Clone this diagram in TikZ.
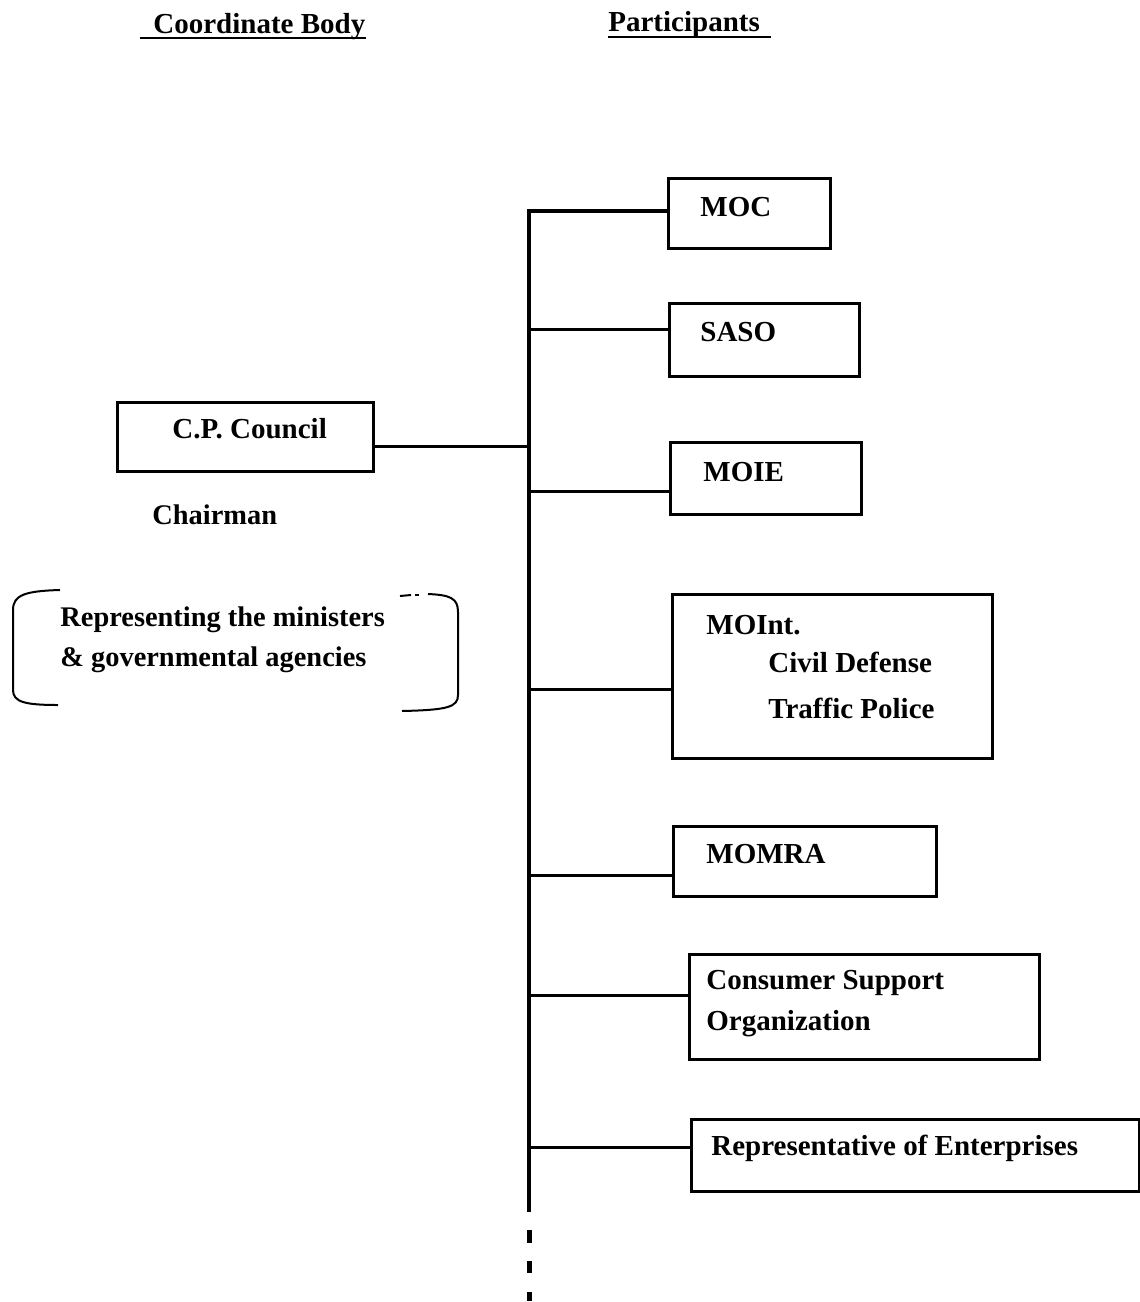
\documentclass[tikz,border=0pt]{standalone}
\usepackage{fontspec}
\setmainfont{Liberation Serif}
\begin{document}
\begin{tikzpicture}[x=0.5pt,y=-0.5pt,
  box/.style={draw, line width=1.5pt, anchor=north west, inner sep=0pt},
  txt/.style={anchor=base west, inner sep=0pt, font=\bfseries\fontsize{14.5}{17}\selectfont},
  stxt/.style={txt, font=\bfseries\fontsize{14.2}{17}\selectfont},
  conn/.style={line width=1.5pt},
  trunk/.style={line width=2pt},
  brk/.style={line width=1pt},
  uline/.style={line width=0.9pt}]
\useasboundingbox (0,0) rectangle (1140,1302);
% headers
\node[txt] (hcb) at (153,33) {Coordinate Body};
\node[txt] (hpa) at (608,31) {Participants};
\draw[uline] (140,38) -- (366,38);
\draw[uline] (608,37) -- (771,37);
% council
\node[box, minimum width=128pt, minimum height=34.5pt] (cp) at (116,401) {};
\node[txt] (cpt) at (172,438) {C.P. Council};
\node[stxt] (chair) at (152,524) {Chairman};
\node[stxt] (rep1) at (60,626) {Representing the ministers};
\node[stxt] (rep2) at (60,666) {\& governmental agencies};
% brackets
\draw[brk] (60,590) .. controls (25,591) and (13,595) .. (13,610) -- (13,690) .. controls (13,702) and (25,705) .. (58,705);
\draw[brk] (400,596) -- (411,595);
\draw[brk] (415,595) -- (419,595);
\draw[brk] (428,594) .. controls (450,595) and (458,598) .. (458,612) -- (458,695) .. controls (458,707) and (448,710) .. (402,711);
% participant boxes
\node[box, minimum width=81pt, minimum height=35pt] (moc) at (667,177) {};
\node[txt] at (700,216) {MOC};
\node[box, minimum width=95pt, minimum height=36.5pt] (saso) at (668,302) {};
\node[txt] at (700,341) {SASO};
\node[box, minimum width=95.5pt, minimum height=36pt] (moie) at (669,441) {};
\node[txt] at (703,481) {MOIE};
\node[box, minimum width=160pt, minimum height=82pt] (moint) at (671,593) {};
\node[txt] at (706,634) {MOInt.};
\node[txt] at (768,672) {Civil Defense};
\node[txt] at (768,718) {Traffic Police};
\node[box, minimum width=131.5pt, minimum height=35pt] (momra) at (672,825) {};
\node[txt] at (706,863) {MOMRA};
\node[box, minimum width=175pt, minimum height=52.5pt] (cso) at (688,953) {};
\node[txt] at (706,989) {Consumer Support};
\node[txt] at (706,1030) {Organization};
\node[box, minimum width=224pt, minimum height=36pt] (roe) at (690,1118) {};
\node[txt] at (711,1155) {Representative of Enterprises};
% trunk and branches
\coordinate (ttop) at (529,211);
\coordinate (tbot) at (529,1212);
\coordinate (tcp) at (529,446);
\coordinate (t2) at (529,329);
\coordinate (t3) at (529,491);
\coordinate (t4) at (529,689);
\coordinate (t5) at (529,875);
\coordinate (t6) at (529,995);
\coordinate (t7) at (529,1147);
\draw[trunk] (ttop -| moc.west) -- (ttop) -- (tbot);
\draw[conn] (t2) -- (t2 -| saso.west);
\draw[conn] (tcp -| cp.east) -- (tcp);
\draw[conn] (t3) -- (t3 -| moie.west);
\draw[conn] (t4) -- (t4 -| moint.west);
\draw[conn] (t5) -- (t5 -| momra.west);
\draw[conn] (t6) -- (t6 -| cso.west);
\draw[conn] (t7) -- (t7 -| roe.west);
% continuation dots
\fill (527,1230) rectangle (532,1243);
\fill (527,1261) rectangle (532,1273);
\fill (527,1292) rectangle (532,1301);
\end{tikzpicture}
\end{document}
